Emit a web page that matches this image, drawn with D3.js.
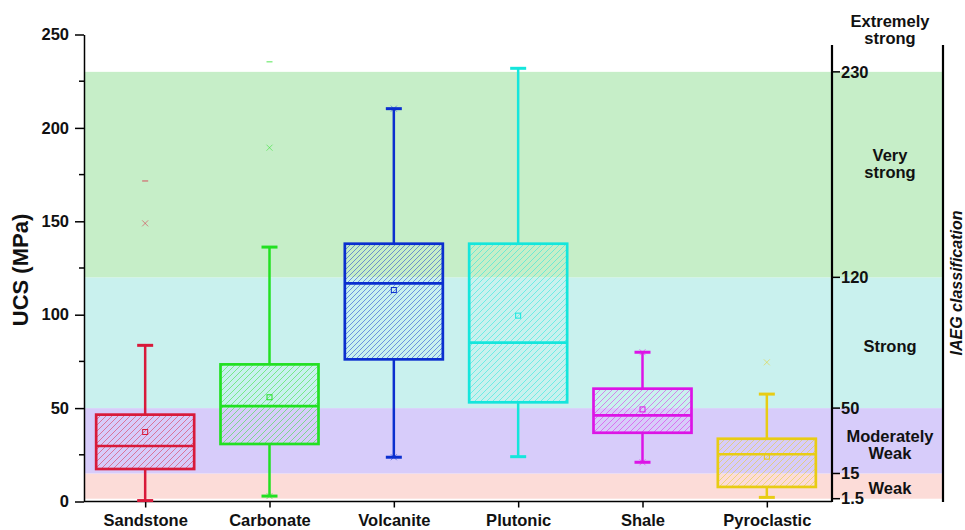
<!DOCTYPE html>
<html>
<head>
<meta charset="utf-8">
<script src="https://cdn.jsdelivr.net/npm/d3@7/dist/d3.min.js"></script>
<style>
  html, body { margin: 0; padding: 0; background: #fff; }
  svg { display: block; font-family: "Liberation Sans", Arial, sans-serif; }
</style>
</head>
<body>
<svg id="chart" width="965" height="530"></svg>
<script>
// Rock types and their UCS box statistics (MPa)
const categories = ["Sandstone", "Carbonate", "Volcanite", "Plutonic", "Shale", "Pyroclastic"];
const colors     = ["#d81a3a", "#22e022", "#0b2fcf", "#14e6dc", "#dc14e6", "#e8cc14"];
const whiskerLow  = [0.5, 2.9, 23.7, 24.0, 21.0, 2.2];
const q1          = [17.4, 30.8, 76.1, 53.1, 36.8, 7.8];
const median      = [29.7, 51.1, 116.8, 85.0, 46.1, 25.3];
const q3          = [46.5, 73.4, 138.0, 138.0, 60.4, 33.6];
const whiskerHigh = [83.6, 136.2, 210.3, 231.9, 79.9, 57.5];
const means       = [37.2, 55.8, 113.2, 99.5, 49.3, 24.0];
const crossHigh   = [148.9, 189.4, 210.3, null, 79.9, 74.5];
const crossLow    = [null, 2.9, 23.7, null, 21.0, null];
const maxDash     = [171.6, 235.4, null, null, null, null];

// IAEG strength classes
const classEdges  = [1.5, 15, 50, 120, 230];
const classTicks  = ["1.5", "15", "50", "120", "230"];
const classFills  = ["#fcdcd8", "#d7ccfa", "#c9f1ee", "#c6eec8"];
const classNames  = [["Weak"], ["Moderately", "Weak"], ["Strong"], ["Very", "strong"], ["Extremely", "strong"]];
const classLabelY = [488, 436, 346, 155, 21];

const leftTicks  = [0, 50, 100, 150, 200, 250];
const minorTicks = [25, 75, 125, 175, 225];

const svg = d3.select("#chart");
const y = d3.scaleLinear().domain([0, 250]).range([501.5, 34.5]);
const x = d3.scalePoint().domain(categories).range([83, 829]).padding(0.5);
const plotLeft = 84, plotRight = 832, bandRight = 943;
const boxW = 98, capW = 16;

// hatch patterns for each series
const defs = svg.append("defs");
categories.forEach((c, i) => {
  const s = i === 2 ? 5 : 6;
  const p = defs.append("pattern")
    .attr("id", "hatch" + i)
    .attr("patternUnits", "userSpaceOnUse")
    .attr("width", s).attr("height", s);
  p.append("path")
    .attr("d", `M-1,1 l2,-2 M0,${s} l${s},-${s} M${s - 1},${s + 1} l2,-2`)
    .attr("stroke", colors[i])
    .attr("stroke-opacity", 0.55)
    .attr("stroke-width", 0.9);
});

// classification bands
svg.append("g").selectAll("rect")
  .data(classFills)
  .join("rect")
  .attr("x", plotLeft)
  .attr("width", bandRight - plotLeft)
  .attr("y", (d, i) => y(classEdges[i + 1]))
  .attr("height", (d, i) => y(classEdges[i]) - y(classEdges[i + 1]))
  .attr("fill", d => d);

// left axis
const gL = svg.append("g").attr("transform", `translate(${plotLeft},0)`);
gL.call(d3.axisLeft(y).tickValues(leftTicks).tickSize(9).tickSizeOuter(0).tickPadding(6));
gL.append("g").selectAll("line").data(minorTicks).join("line")
  .attr("x1", -5).attr("x2", 0)
  .attr("y1", d => y(d)).attr("y2", d => y(d))
  .attr("stroke", "#000").attr("stroke-width", 1.5);
gL.selectAll(".tick line").attr("stroke-width", 1.5);
gL.select(".domain").attr("stroke-width", 1.5);
gL.selectAll(".tick text").attr("font-size", 16.5).attr("font-weight", "bold").attr("fill", "#111");

// bottom axis
const gB = svg.append("g").attr("transform", `translate(0,${y(0)})`);
gB.call(d3.axisBottom(x).tickSize(6).tickSizeOuter(0).tickPadding(7));
gB.select(".domain").attr("d", `M${plotLeft},0H${plotRight}`).attr("stroke-width", 1.5);
gB.selectAll(".tick line").attr("stroke-width", 1.5);
gB.selectAll(".tick text").attr("font-size", 16.5).attr("font-weight", "bold").attr("fill", "#111");

// boxes
const gBox = svg.append("g");
categories.forEach((c, i) => {
  const cx = x(c), col = colors[i];
  const g = gBox.append("g");
  // whiskers
  g.append("line").attr("x1", cx).attr("x2", cx)
    .attr("y1", y(q3[i])).attr("y2", y(whiskerHigh[i]))
    .attr("stroke", col).attr("stroke-width", 2.5);
  g.append("line").attr("x1", cx).attr("x2", cx)
    .attr("y1", y(q1[i])).attr("y2", y(whiskerLow[i]))
    .attr("stroke", col).attr("stroke-width", 2.5);
  [whiskerHigh[i], whiskerLow[i]].forEach(v => {
    g.append("line").attr("x1", cx - capW / 2).attr("x2", cx + capW / 2)
      .attr("y1", y(v)).attr("y2", y(v))
      .attr("stroke", col).attr("stroke-width", 3);
  });
  // box
  g.append("rect")
    .attr("x", cx - boxW / 2).attr("width", boxW)
    .attr("y", y(q3[i])).attr("height", y(q1[i]) - y(q3[i]))
    .attr("fill", `url(#hatch${i})`)
    .attr("stroke", col).attr("stroke-width", 2.7);
  g.append("line")
    .attr("x1", cx - boxW / 2).attr("x2", cx + boxW / 2)
    .attr("y1", y(median[i])).attr("y2", y(median[i]))
    .attr("stroke", col).attr("stroke-width", 2.7);
  // mean
  g.append("rect")
    .attr("x", cx - 2.5).attr("y", y(means[i]) - 2.5)
    .attr("width", 5).attr("height", 5)
    .attr("fill", "none").attr("stroke", col).attr("stroke-width", 1);
  // percentile crosses
  [crossHigh[i], crossLow[i]].forEach(v => {
    if (v == null) return;
    const py = y(v);
    g.append("path")
      .attr("d", `M${cx - 3},${py - 3}L${cx + 3},${py + 3}M${cx - 3},${py + 3}L${cx + 3},${py - 3}`)
      .attr("stroke", col).attr("stroke-opacity", 0.5).attr("stroke-width", 1);
  });
  // maximum dash
  if (maxDash[i] != null) {
    g.append("line").attr("x1", cx - 3).attr("x2", cx + 3)
      .attr("y1", y(maxDash[i])).attr("y2", y(maxDash[i]))
      .attr("stroke", col).attr("stroke-opacity", 0.5).attr("stroke-width", 1.5);
  }
});

// right classification axis
const axisX = 832;
const gR = svg.append("g");
gR.append("line").attr("x1", axisX).attr("x2", axisX).attr("y1", 45).attr("y2", 502)
  .attr("stroke", "#000").attr("stroke-width", 2.2);
gR.append("line").attr("x1", bandRight).attr("x2", bandRight).attr("y1", 45).attr("y2", 502)
  .attr("stroke", "#000").attr("stroke-width", 2.2);
gR.selectAll(".rt").data(classEdges).join("line")
  .attr("x1", axisX).attr("x2", axisX + 8)
  .attr("y1", d => y(d)).attr("y2", d => y(d))
  .attr("stroke", "#000").attr("stroke-width", 1.5);
gR.selectAll(".rl").data(classEdges).join("text")
  .attr("x", axisX + 9)
  .attr("y", d => y(d))
  .attr("dy", "0.35em")
  .attr("font-size", 16.5).attr("font-weight", "bold").attr("fill", "#111")
  .text((d, i) => classTicks[i]);

// class names
classNames.forEach((lines, i) => {
  const t = svg.append("text")
    .attr("x", 890).attr("y", classLabelY[i])
    .attr("text-anchor", "middle")
    .attr("font-size", 16.5).attr("font-weight", "bold").attr("fill", "#111");
  lines.forEach((ln, j) => {
    t.append("tspan").attr("x", 890).attr("dy", j === 0 ? "0.35em" : "1.05em").text(ln);
  });
});

// axis titles
svg.append("text")
  .attr("transform", `translate(28,${270}) rotate(-90)`)
  .attr("text-anchor", "middle")
  .attr("font-size", 22).attr("font-weight", "bold").attr("fill", "#111")
  .text("UCS (MPa)");
svg.append("text")
  .attr("transform", `translate(956,${283}) rotate(-90)`)
  .attr("text-anchor", "middle").attr("dy", "0.35em")
  .attr("font-size", 16).attr("font-weight", "bold").attr("font-style", "italic").attr("fill", "#111")
  .text("IAEG classification");
</script>
</body>
</html>
